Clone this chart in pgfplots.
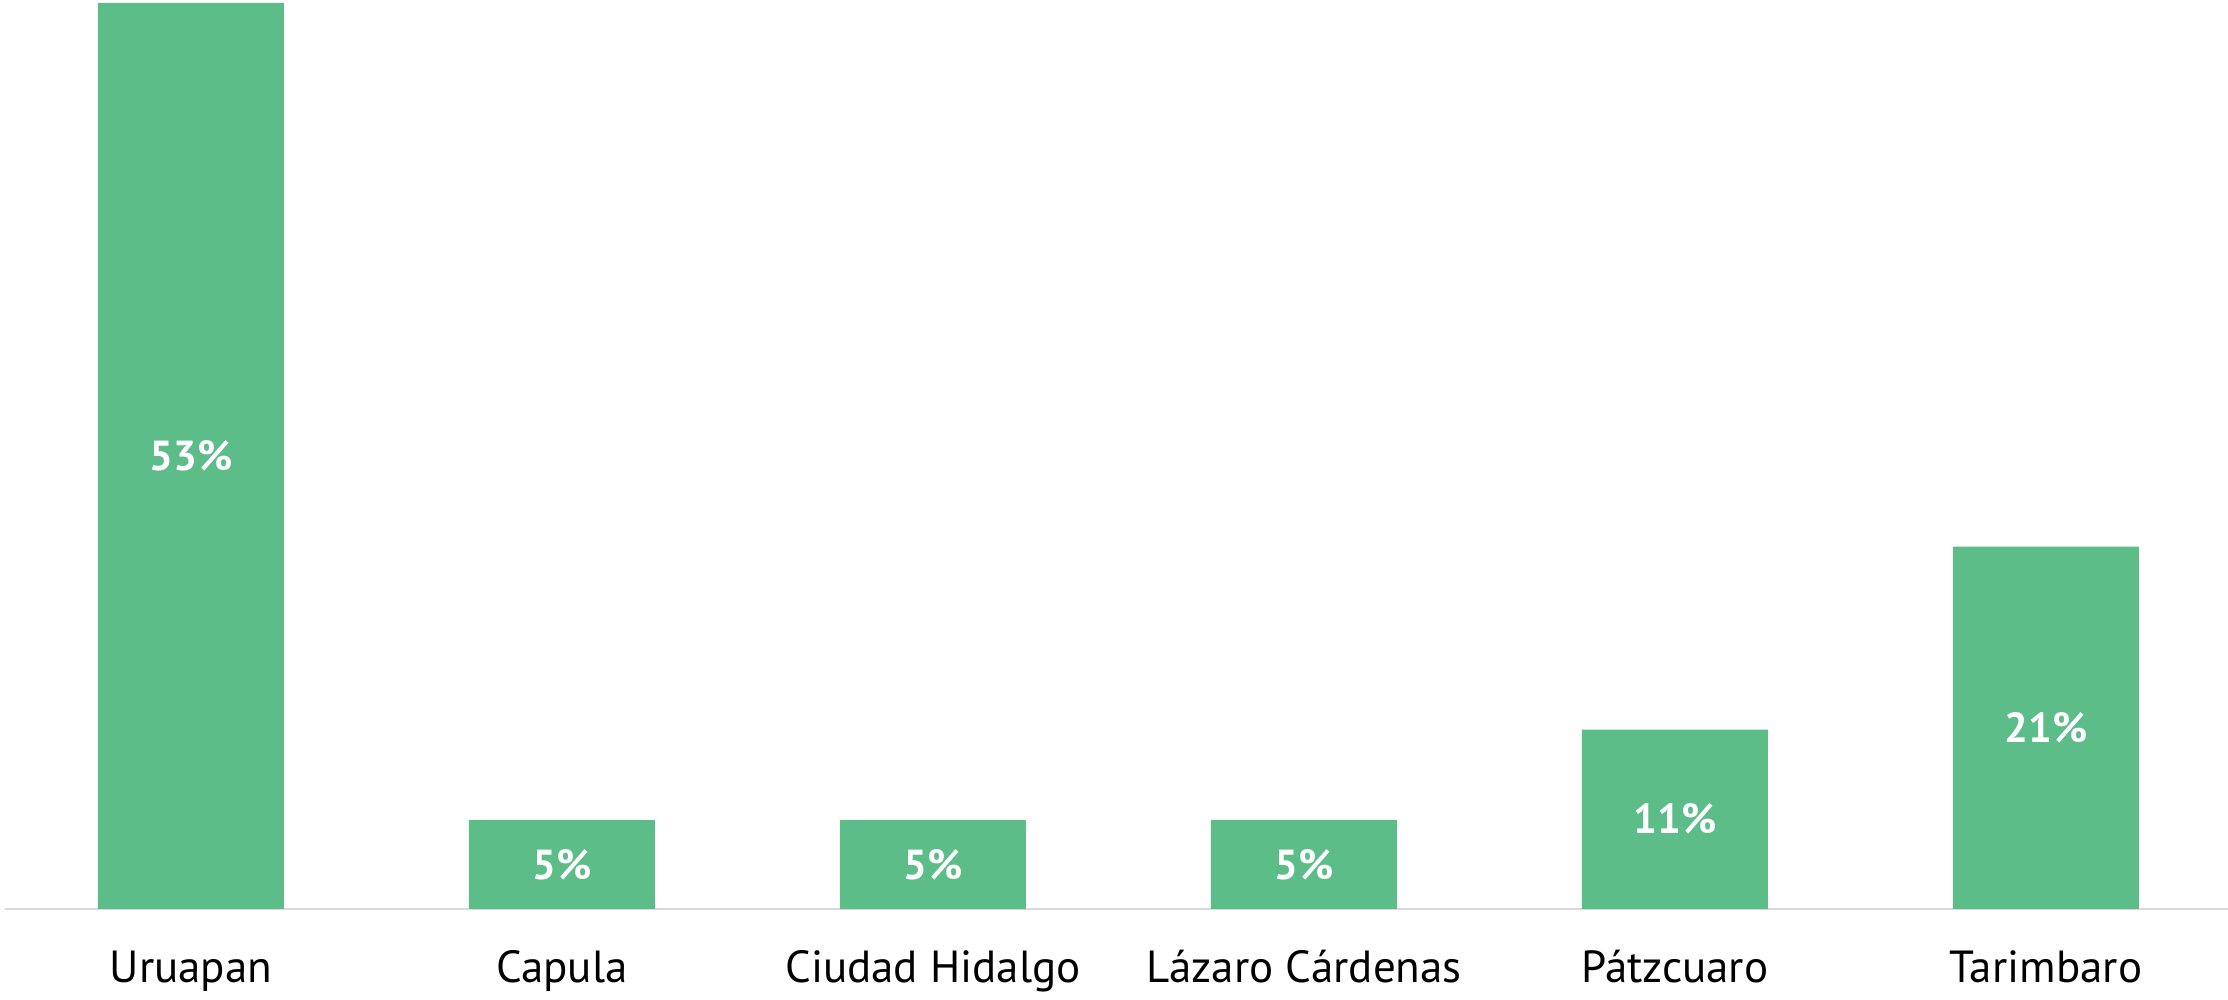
\documentclass[border=0pt]{standalone}
\usepackage{fontspec}
\setmainfont{PT Sans}
\usepackage{pgfplots}
\pgfplotsset{compat=1.18}
\definecolor{barg}{HTML}{5CBD88}
\definecolor{lineg}{HTML}{D9D9D9}
\begin{document}
\begin{tikzpicture}
\begin{axis}[
  at={(0,0)}, anchor=south west,
  scale only axis, width=1113pt, height=453pt,
  xmin=-0.5, xmax=5.5, ymin=0, ymax=53,
  axis x line=bottom, hide y axis,
  x axis line style={draw=lineg, line width=1.2pt, -},
  xtick=data,
  xticklabels={Uruapan, Capula, Ciudad Hidalgo, Lázaro Cárdenas, Pátzcuaro, Tarimbaro},
  major tick length=0pt,
  xticklabel style={anchor=base, yshift=-37pt, font=\fontsize{22.5}{27}\selectfont, text=black},
  ybar, bar width=93pt,
  clip=false,
]
\addplot[fill=barg, draw=none,
  point meta=explicit symbolic,
  nodes near coords,
  visualization depends on={rawy \as \rawy},
  every node near coord/.append style={anchor=center, text=white,
    font=\fontsize{21}{25}\selectfont\bfseries,
    shift={(axis direction cs:0,-\rawy/2)}},
] coordinates {(0,53)[53\%] (1,5.2)[5\%] (2,5.2)[5\%] (3,5.2)[5\%] (4,10.5)[11\%] (5,21.2)[21\%]};
\end{axis}
\pgfresetboundingbox
\path (-2.75pt,-45.5pt) rectangle (1111.25pt,454.5pt);
\end{tikzpicture}
\end{document}
